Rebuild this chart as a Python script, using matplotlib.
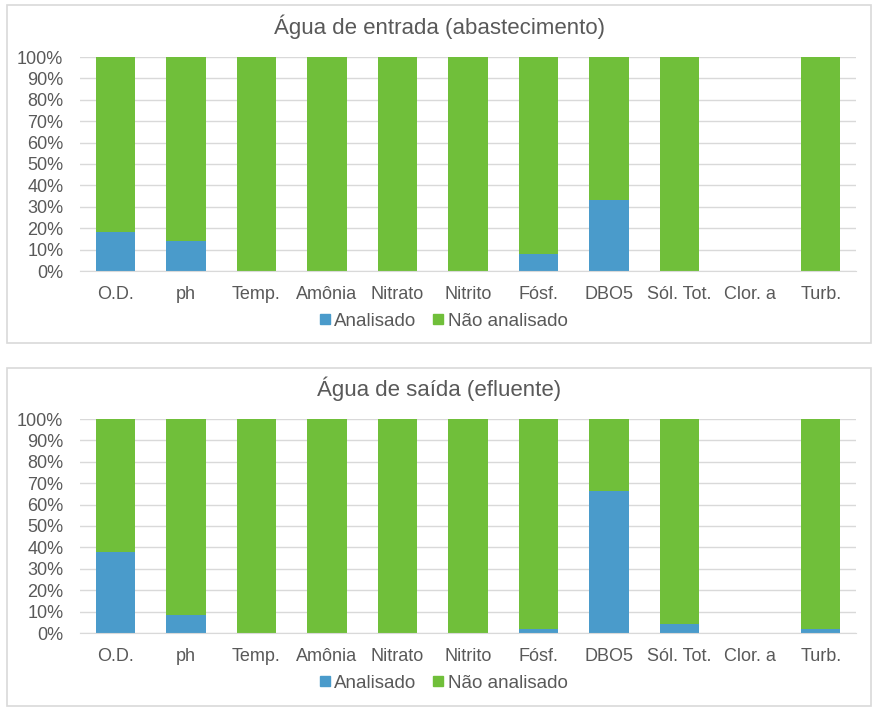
import matplotlib.pyplot as plt
from matplotlib.patches import Rectangle
from matplotlib.lines import Line2D
from matplotlib.ticker import PercentFormatter
import numpy as np

plt.rcParams['font.family'] = ['Liberation Sans', 'DejaVu Sans']

categories = ['O.D.', 'ph', 'Temp.', 'Amônia', 'Nitrato', 'Nitrito', 'Fósf.',
              'DBO5', 'Sól. Tot.', 'Clor. a', 'Turb.']

# percentage analysed, water in (supply)
entrada_analisado = [18, 14, 0, 0, 0, 0, 8, 33, 0, 0, 0]
entrada_nao = [82, 86, 100, 100, 100, 100, 92, 67, 100, 0, 100]

# percentage analysed, water out (effluent)
saida_analisado = [38, 8.5, 0, 0, 0, 0, 1.7, 66.5, 4, 0, 1.7]
saida_nao = [62, 91.5, 100, 100, 100, 100, 98.3, 33.5, 96, 0, 98.3]

titles = ['Água de entrada (abastecimento)', 'Água de saída (efluente)']

blue = '#4A9BCB'
green = '#70BF3A'
grid_c = '#D9D9D9'
txt = '#595959'

W, H = 877, 712
fig = plt.figure(figsize=(W / 100, H / 100), dpi=100)

panels = [
    # (box top, box bottom, axes top, axes bottom, title y, legend y)
    (5, 343, 57, 271, 27, 321),
    (368, 706, 419, 633, 389, 683),
]
data = [(entrada_analisado, entrada_nao), (saida_analisado, saida_nao)]

for (btop, bbot, atop, abot, ty, ly), (ana, nao), title in zip(panels, data, titles):
    fig.patches.append(Rectangle((7 / W, 1 - bbot / H), (871 - 7) / W, (bbot - btop) / H,
                                 transform=fig.transFigure, fill=False,
                                 edgecolor='#D9D9D9', linewidth=1.2))
    ax = fig.add_axes([80 / W, 1 - abot / H, (856 - 80) / W, (abot - atop) / H])
    x = np.arange(len(categories))
    ax.bar(x, ana, width=0.56, color=blue, zorder=3)
    ax.bar(x, nao, width=0.56, bottom=ana, color=green, zorder=3)
    ax.set_xlim(-0.5, len(categories) - 0.5)
    ax.set_ylim(0, 100)
    ax.set_yticks(range(0, 101, 10))
    ax.yaxis.set_major_formatter(PercentFormatter(decimals=0))
    ax.set_xticks(x)
    ax.set_xticklabels(categories)
    ax.grid(axis='y', color=grid_c, linewidth=1, zorder=0)
    for s in ['top', 'right', 'left']:
        ax.spines[s].set_visible(False)
    ax.spines['bottom'].set_color(grid_c)
    ax.spines['bottom'].set_zorder(4)
    ax.tick_params(length=0, labelsize=13, colors=txt)
    ax.tick_params(axis='x', pad=11)
    ax.tick_params(axis='y', pad=12)

    fig.text(0.5 * (7 + 871) / W, 1 - ty / H, title, ha='center', va='center',
             fontsize=16, color=txt)
    handles = [Line2D([], [], marker='s', color=blue, linestyle='', markersize=7),
               Line2D([], [], marker='s', color=green, linestyle='', markersize=7)]
    fig.legend(handles, ['Analisado', 'Não analisado'], loc='center',
               bbox_to_anchor=(443 / W, 1 - ly / H), ncol=2, frameon=False,
               fontsize=13.5, labelcolor=txt, handletextpad=0.15,
               columnspacing=0.8, handlelength=0.7)

fig.savefig('out.png', dpi=100)
